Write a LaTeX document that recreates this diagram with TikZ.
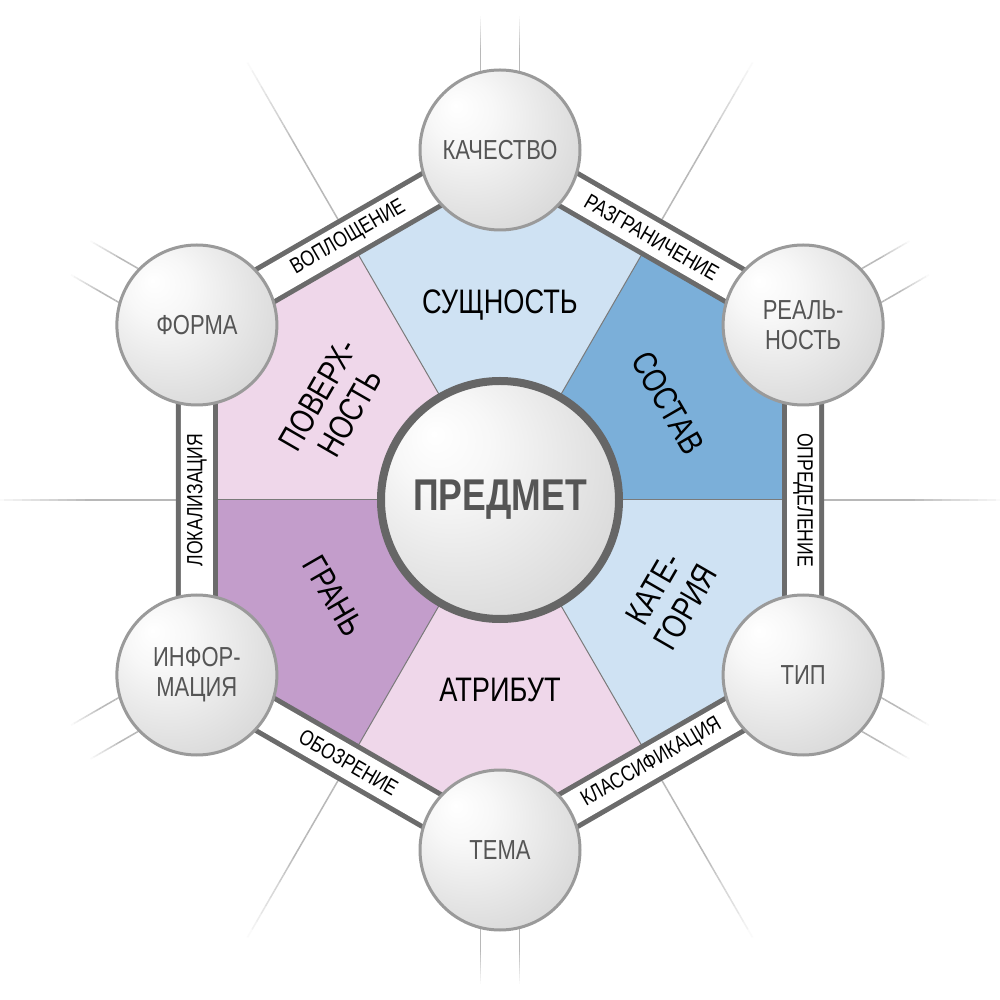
\documentclass[tikz,border=0pt]{standalone}
\usepackage{fontspec}
\setmainfont{Liberation Sans}[FakeStretch=0.8]
\usetikzlibrary{calc}
\definecolor{lblue}{HTML}{CFE2F3}
\definecolor{mblue}{HTML}{7BAFD9}
\definecolor{lpink}{HTML}{EFD7EA}
\definecolor{purp}{HTML}{C39DCB}
\definecolor{bandgray}{HTML}{6B6B6B}
\definecolor{txtgray}{HTML}{555555}
\definecolor{ringgray}{HTML}{9A9A9A}
\definecolor{cring}{HTML}{666666}
\definecolor{divgray}{HTML}{7A7A7A}
\pgfdeclareradialshading{ballg}{\pgfpoint{-14bp}{14bp}}{color(0bp)=(white); color(10bp)=(white!97!black); color(35bp)=(white!85!black); color(64bp)=(white!72!black)}
\newcommand{\fadeline}[4]{%
  \foreach \k in {0,...,19}{%
    \pgfmathsetmacro{\ra}{#3+(#4-#3)*\k/20}%
    \pgfmathsetmacro{\rb}{#3+(#4-#3)*(\k+1)/20}%
    \pgfmathtruncatemacro{\pc}{min(28,28*(20-\k)/11)}%
    \draw[line width=1.5, black!\pc, rotate=#1] (\ra,#2) -- (\rb,#2);
  }%
}
\tikzset{
  ball/.style={circle, minimum size=160, inner sep=0pt, shading=ballg, draw=ringgray, line width=3,
    text=txtgray, align=center, font=\fontsize{27.5}{30}\selectfont},
  cball/.style={circle, minimum size=238, inner sep=0pt, shading=ballg, draw=cring, line width=8,
    text=txtgray, font=\fontsize{44.5}{50}\selectfont\bfseries},
  seclbl/.style={inner sep=0pt, align=center, text=black, font=\fontsize{34}{37}\selectfont},
  bandlbl/.style={inner sep=0pt, text=black, font=\fontsize{22}{24}\selectfont},
  divider/.style={divgray, line width=1},
}
\begin{document}
\begin{tikzpicture}[x=1pt,y=1pt]
\useasboundingbox (-500,-500) rectangle (500,500);
\fill[white] (-500,-500) rectangle (500,500);
\coordinate (c) at (0,0);
\foreach \i/\a in {1/90,2/30,3/-30,4/-90,5/-150,6/150} { \coordinate (p\i) at (\a:350); }
\foreach \i/\a in {1/60,2/0,3/-60,4/-120,5/180,6/120} { \coordinate (m\i) at (\a:303.11); }

% outer faded rays
\foreach \a in {60,0,-60,-120,180,120} { \fadeline{\a}{0}{324}{505} }
\foreach \a in {90,30,-30,-90,-150,150} { \fadeline{\a}{19.5}{420}{484} \fadeline{\a}{-19.5}{420}{484} }

% sectors
\fill[lblue] (c) -- (m6) -- (p1) -- (m1) -- cycle;
\fill[mblue] (c) -- (m1) -- (p2) -- (m2) -- cycle;
\fill[lblue] (c) -- (m2) -- (p3) -- (m3) -- cycle;
\fill[lpink] (c) -- (m3) -- (p4) -- (m4) -- cycle;
\fill[purp]  (c) -- (m4) -- (p5) -- (m5) -- cycle;
\fill[lpink] (c) -- (m5) -- (p6) -- (m6) -- cycle;
\foreach \i in {1,...,6} { \draw[divider] (c) -- (m\i); }

% band
\draw[bandgray, line width=42] (p1) -- (p2) -- (p3) -- (p4) -- (p5) -- (p6) -- cycle;
\draw[white, line width=32] (p1) -- (p2) -- (p3) -- (p4) -- (p5) -- (p6) -- cycle;

% band labels
\node[bandlbl, rotate=-30] (b1) at (m1) {РАЗГРАНИЧЕНИЕ};
\node[bandlbl, rotate=-90] (b2) at (m2) {ОПРЕДЕЛЕНИЕ};
\node[bandlbl, rotate=30]  (b3) at (m3) {КЛАССИФИКАЦИЯ};
\node[bandlbl, rotate=-30] (b4) at (m4) {ОБОЗРЕНИЕ};
\node[bandlbl, rotate=90]  (b5) at (m5) {ЛОКАЛИЗАЦИЯ};
\node[bandlbl, rotate=30]  (b6) at (m6) {ВОПЛОЩЕНИЕ};

% vertex balls
\node[ball] (n1) at (p1) {КАЧЕСТВО};
\node[ball] (n2) at (p2) {РЕАЛЬ-\\НОСТЬ};
\node[ball] (n3) at (p3) {ТИП};
\node[ball] (n4) at (p4) {ТЕМА};
\node[ball] (n5) at (p5) {ИНФОР-\\МАЦИЯ};
\node[ball] (n6) at (p6) {ФОРМА};

% center
\node[cball] (n0) at (c) {ПРЕДМЕТ};

% sector labels
\node[seclbl] (s1) at (90:195) {СУЩНОСТЬ};
\node[seclbl, rotate=-60] (s2) at (30:194) {СОСТАВ};
\node[seclbl, rotate=60] (s3) at (-30:196) {КАТЕ-\\ГОРИЯ};
\node[seclbl] (s4) at (-90:190) {АТРИБУТ};
\node[seclbl, rotate=-60] (s5) at (-150:192) {ГРАНЬ};
\node[seclbl, rotate=60] (s6) at (150:192) {ПОВЕРХ-\\НОСТЬ};
\end{tikzpicture}
\end{document}
